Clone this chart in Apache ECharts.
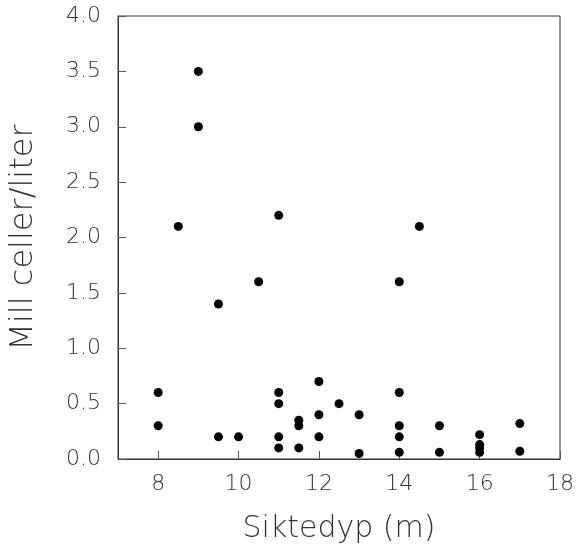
<!DOCTYPE html>
<html><head><meta charset="utf-8">
<script src="https://cdn.jsdelivr.net/npm/echarts@6/dist/echarts.min.js"></script>
<style>html,body{margin:0;padding:0;background:#fff}#c{width:577px;height:551px}</style>
</head><body><div id="c"></div>
<script>
var depth = [9, 9, 8.5, 11, 14.5, 14, 10.5, 9.5,
  8, 8, 9.5, 10, 11, 11, 11, 11, 11.5, 11.5, 11.5,
  12, 12, 12, 12.5, 13, 13, 14, 14, 14, 14, 15, 15,
  16, 16, 16, 16, 17, 17];
var cells = [3.5, 3.0, 2.1, 2.2, 2.1, 1.6, 1.6, 1.4,
  0.6, 0.3, 0.2, 0.2, 0.6, 0.5, 0.2, 0.1, 0.35, 0.3, 0.1,
  0.7, 0.4, 0.2, 0.5, 0.4, 0.05, 0.6, 0.3, 0.2, 0.06, 0.3, 0.06,
  0.22, 0.13, 0.1, 0.06, 0.32, 0.07];
var xTicks = [8, 10, 12, 14, 16, 18];
var xTitle = 'Siktedyp (m)';
var yTitle = 'Mill celler/liter';

var pts = depth.map(function (d, i) { return [d, cells[i]]; });
var font = 'DejaVu Sans, sans-serif';
var chart = echarts.init(document.getElementById('c'));
chart.setOption({
  animation: false,
  grid: { left: 117, right: 17, top: 16, bottom: 92, show: true, borderColor: '#333', borderWidth: 1 },
  xAxis: {
    type: 'value', min: 7, max: 18,
    name: xTitle, nameLocation: 'middle', nameGap: 55,
    nameTextStyle: { fontSize: 30, color: '#333', fontFamily: font, fontWeight: 200 },
    axisLine: { show: true, onZero: false, lineStyle: { color: '#333', width: 1 } },
    axisTick: { show: true, inside: true, length: 8, customValues: xTicks, lineStyle: { color: '#555' } },
    axisLabel: { margin: 14, fontSize: 22, color: '#333', fontFamily: font, fontWeight: 200, customValues: xTicks },
    splitLine: { show: false }
  },
  yAxis: {
    type: 'value', min: 0, max: 4, interval: 0.5,
    name: yTitle, nameLocation: 'middle', nameGap: 78,
    nameTextStyle: { fontSize: 32, color: '#333', fontFamily: font, fontWeight: 200 },
    axisLine: { show: true, lineStyle: { color: '#333', width: 1 } },
    axisTick: { show: true, inside: true, length: 8, lineStyle: { color: '#555' } },
    axisLabel: { margin: 17, fontSize: 22, color: '#333', fontFamily: font, fontWeight: 200,
      formatter: function (v) { return v.toFixed(1); } },
    splitLine: { show: false }
  },
  series: [{
    type: 'scatter', data: pts, symbol: 'circle', symbolSize: 9,
    itemStyle: { color: '#000', opacity: 1 }
  }]
});
</script></body></html>
